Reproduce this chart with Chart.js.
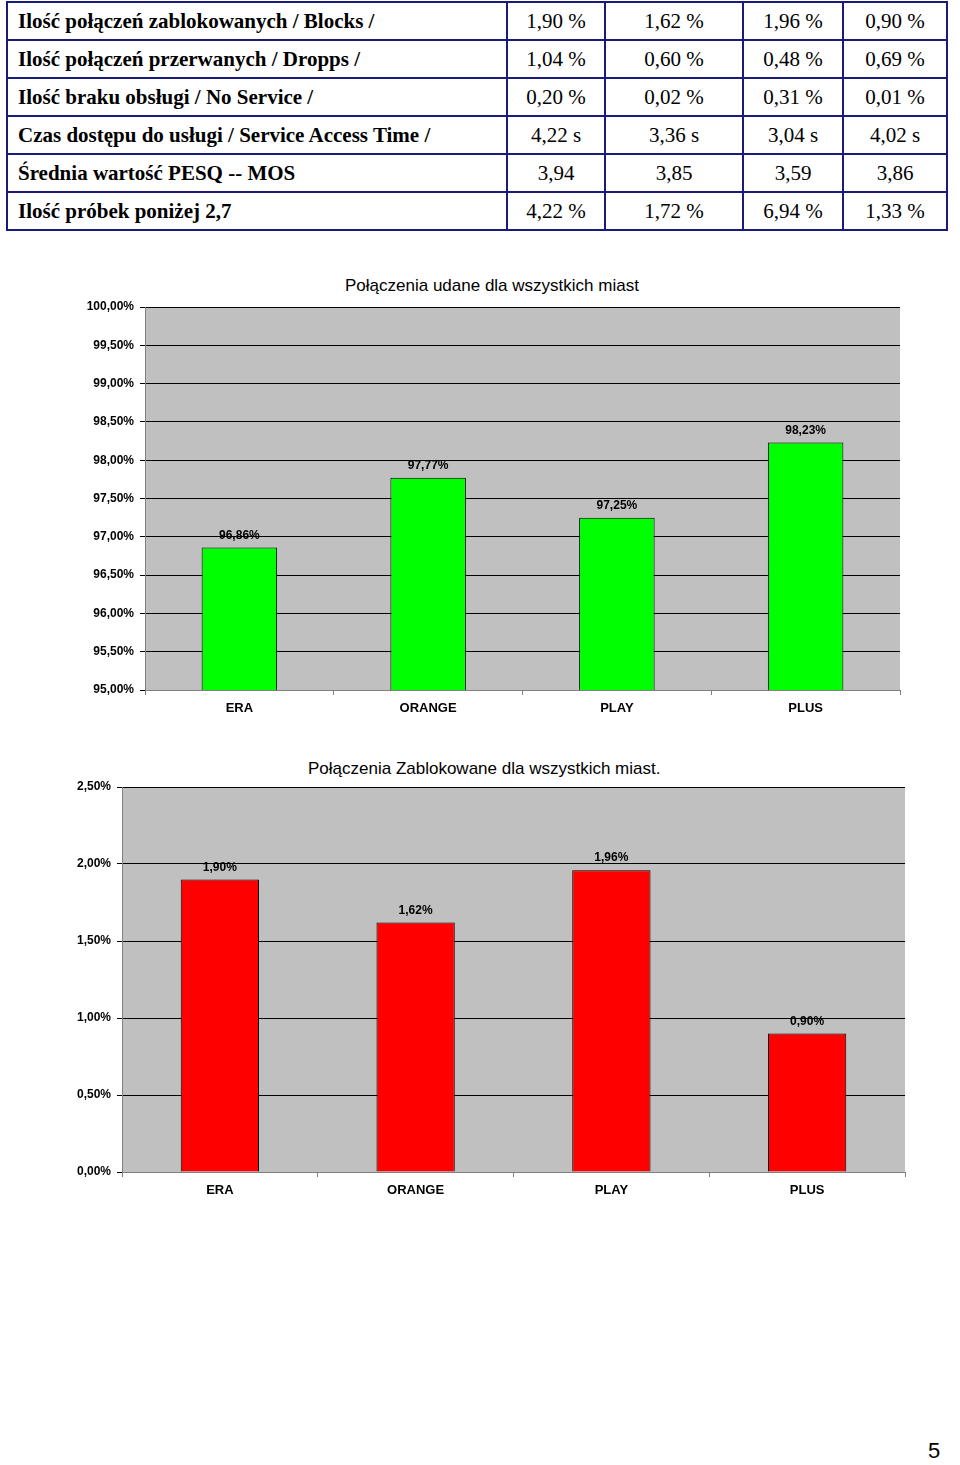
<!DOCTYPE html>
<html>
<head>
<meta charset="utf-8">
<script src="https://cdn.jsdelivr.net/npm/chart.js@4"></script>
<style>
  body { margin: 0; background: #fff; width: 960px; height: 1465px; position: relative; font-family: "Liberation Serif", serif; }
  table { position: absolute; left: 6px; top: 1px; border-collapse: collapse; font-size: 21px; }
  td { border: 2px solid #1a1a7a; height: 36px; padding: 0 10px; text-align: center; }
  td.h { text-align: left; font-weight: bold; width: 478px; }
  .box { position: absolute; left: 60px; }
  .title { position: absolute; font-family: "Liberation Sans", Arial, sans-serif; font-size: 17px; width: 100%; }
  #pg { position: absolute; left: 928px; top: 1438px; font-family: "Liberation Sans", Arial; font-size: 22px; }
</style>
</head>
<body>
<table id="tbl"></table>

<div class="title" style="top:276px;left:345px;width:auto">Połączenia udane dla wszystkich miast</div>
<div class="box" style="top:270px;width:860px;height:450px"><canvas id="c1"></canvas></div>

<div class="title" style="top:759px;left:308px;width:auto">Połączenia Zablokowane dla wszystkich miast.</div>
<div class="box" style="top:750px;width:860px;height:452px"><canvas id="c2"></canvas></div>

<div id="pg">5</div>

<script>
// table data
let rowLabels = [
	'Ilość połączeń zablokowanych / Blocks /',
	'Ilość połączeń przerwanych / Dropps /',
	'Ilość braku obsługi / No Service /',
	'Czas dostępu do usługi / Service Access Time /',
	'Średnia wartość PESQ -- MOS',
	'Ilość próbek poniżej 2,7'
];
let rowValues = [
	['1,90 %', '1,62 %', '1,96 %', '0,90 %'],
	['1,04 %', '0,60 %', '0,48 %', '0,69 %'],
	['0,20 %', '0,02 %', '0,31 %', '0,01 %'],
	['4,22 s', '3,36 s', '3,04 s', '4,02 s'],
	['3,94', '3,85', '3,59', '3,86'],
	['4,22 %', '1,72 %', '6,94 %', '1,33 %']
];
let colWidths = [100, 140, 102, 106];

// chart data
let operators = ['ERA', 'ORANGE', 'PLAY', 'PLUS'];
let successRates = [96.86, 97.77, 97.25, 98.23];
let blockRates = [1.90, 1.62, 1.96, 0.90];

let tbl = document.getElementById('tbl');
rowLabels.forEach(function(label, i)
{
	let tr = document.createElement('tr');
	let th = document.createElement('td');
	th.className = 'h';
	th.textContent = label;
	tr.appendChild(th);
	rowValues[i].forEach(function(v, j)
	{
		let td = document.createElement('td');
		td.textContent = v;
		td.style.width = (colWidths[j] - 24) + 'px';
		tr.appendChild(td);
	});
	tbl.appendChild(tr);
});

function pct(v)
{
	return v.toFixed(2).replace('.', ',') + '%';
}

let valueLabels = {
	id: 'valueLabels',
	afterDatasetsDraw: function(chart)
	{
		let ctx = chart.ctx;
		ctx.save();
		ctx.font = 'bold 12px "Liberation Sans", Arial';
		ctx.fillStyle = '#000';
		ctx.textAlign = 'center';
		ctx.textBaseline = 'bottom';
		chart.getDatasetMeta(0).data.forEach(function(bar, i)
		{
			ctx.fillText(pct(chart.data.datasets[0].data[i]), bar.x, bar.y - 6);
		});
		ctx.restore();
	}
};

function makeChart(id, values, color, min, max, yWidth, padRight)
{
	return new Chart(document.getElementById(id), {
		type: 'bar',
		data: {
			labels: operators,
			datasets: [{
				data: values,
				backgroundColor: color,
				borderColor: '#000',
				borderWidth: 1,
				barPercentage: 0.4,
				categoryPercentage: 1
			}]
		},
		options: {
			animation: false,
			responsive: true,
			maintainAspectRatio: false,
			layout: { padding: { top: 37, right: padRight, left: 0, bottom: 0 } },
			plugins: { legend: { display: false }, tooltip: { enabled: false } },
			scales: {
				x: {
					afterFit: function(s) { s.height = 30; },
					grid: { drawOnChartArea: false, offset: true, tickLength: 5, color: '#808080' },
					border: { color: '#808080' },
					ticks: { color: '#000', font: { family: '"Liberation Sans", Arial', size: 13, weight: 'bold' }, padding: 6 }
				},
				y: {
					min: min,
					max: max,
					afterFit: function(s) { s.width = yWidth; },
					grid: { color: '#000', tickLength: 5, tickColor: '#000' },
					border: { color: '#808080' },
					ticks: {
						stepSize: 0.5,
						color: '#000',
						padding: 6,
						font: { family: '"Liberation Sans", Arial', size: 12, weight: 'bold' },
						callback: function(v) { return pct(v); }
					}
				}
			}
		},
		plugins: [{
			id: 'bg',
			beforeDraw: function(chart)
			{
				let a = chart.chartArea;
				chart.ctx.fillStyle = '#c0c0c0';
				chart.ctx.fillRect(a.left, a.top, a.right - a.left, a.bottom - a.top);
			}
		}, valueLabels]
	});
}

makeChart('c1', successRates, '#00ff00', 95, 100, 85, 20);
makeChart('c2', blockRates, '#ff0000', 0, 2.5, 62, 15);
</script>
</body>
</html>
